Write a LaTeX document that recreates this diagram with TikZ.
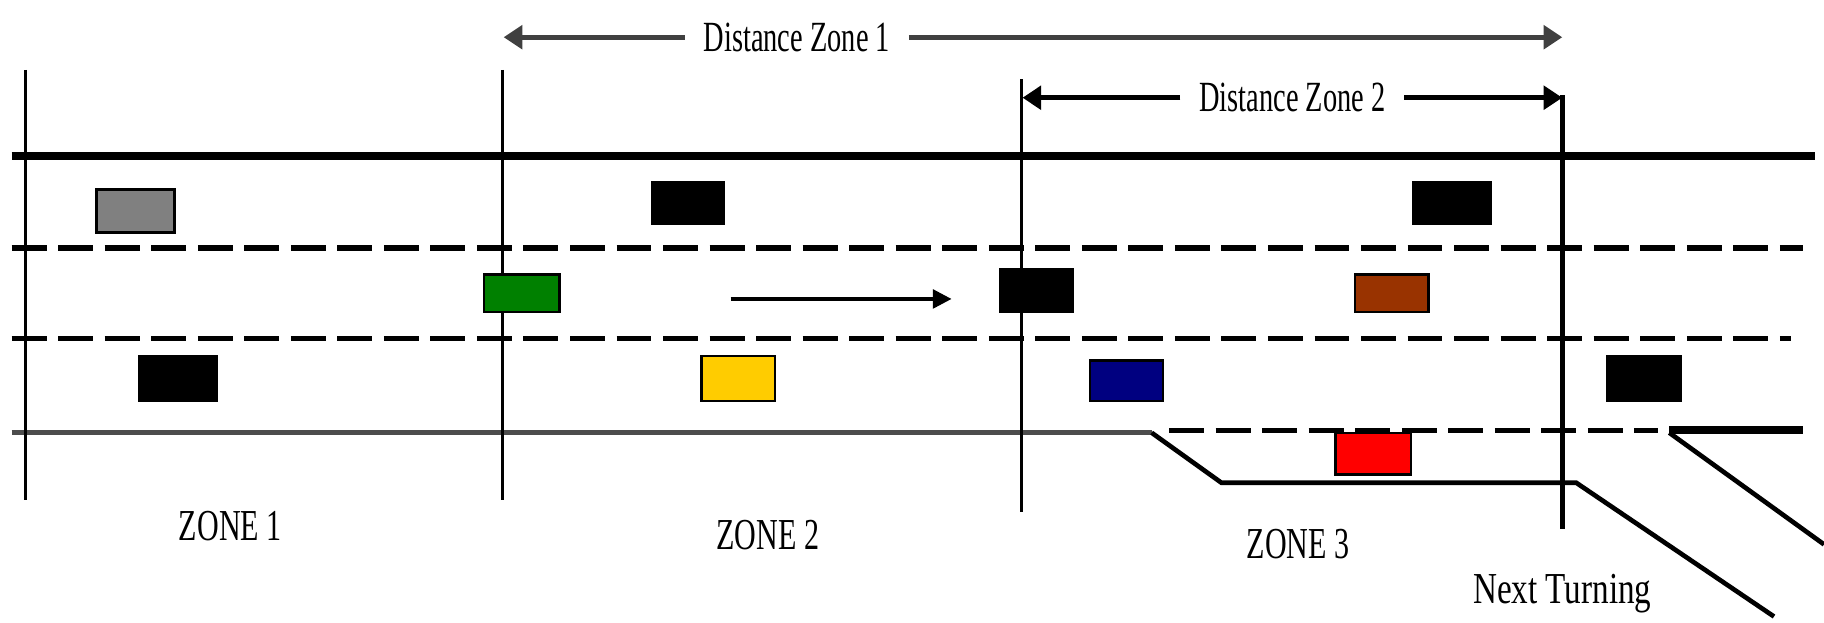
\documentclass[tikz,border=0pt]{standalone}
\usepackage{fontspec}
\setmainfont{Liberation Serif}
\usetikzlibrary{arrows.meta}
\tikzset{
  road/.style={line width=7pt,black},
  lane/.style={line width=5pt,black,dash pattern=on 30pt off 10pt},
  edge/.style={line width=4pt,black!70},
  ramp/.style={line width=4pt,black},
  zoneline/.style={line width=3pt,black},
  dist/.style={line width=4pt,black!75,-{Triangle[length=16pt,width=20pt]}},
  dir/.style={line width=3pt,black,-{Triangle[length=16pt,width=16pt]}},
  car/.style={draw=black,line width=2pt},
  lbl/.style={inner sep=0pt,font=\fontsize{38}{38}\selectfont},
  dlbl/.style={inner xsep=16pt,inner ysep=0pt,font=\fontsize{37}{37}\selectfont}
}
\definecolor{cargray}{HTML}{808080}
\definecolor{cargreen}{HTML}{008000}
\definecolor{carbrown}{HTML}{993300}
\definecolor{caryellow}{HTML}{FFCC00}
\definecolor{carblue}{HTML}{000080}
\definecolor{carred}{HTML}{FF0000}
\begin{document}
\begin{tikzpicture}[x=1pt,y=-1pt]
\useasboundingbox[fill=white] (0,0) rectangle (1568,535);
% road
\draw[road] (10,134) -- (1560,134);
\draw[lane] (10,213) -- (1550,213);
\draw[lane] (10,291) -- (1540,291);
\draw[edge] (10,372) -- (990,372);
\draw[ramp] (990,372) -- (1050,415) -- (1355,415) -- (1525,530);
\draw[lane] (1005,370) -- (1425,370);
\draw[road] (1435,370) -- (1550,370);
\draw[ramp] (1435,372) -- (1568,468);
% zone lines
\coordinate (v1t) at (22,60);   \coordinate (v1b) at (22,430);
\coordinate (v2t) at (432,60);  \coordinate (v2b) at (432,430);
\coordinate (v3t) at (878,68);  \coordinate (v3b) at (878,440);
\coordinate (v4t) at (1343,82); \coordinate (v4b) at (1343,455);
\draw[zoneline] (v1t) -- (v1b);
\draw[zoneline] (v2t) -- (v2b);
\draw[zoneline] (v3t) -- (v3b);
\draw[line width=4pt] (v4t) -- (v4b);
% distance arrows
\node[dlbl] (dz1) at (685,32) {\scalebox{0.66}[1]{Distance Zone 1}};
\node[dlbl] (dz2) at (1111,84) {\scalebox{0.66}[1]{Distance Zone 2}};
\coordinate (a1l) at (433,32); \coordinate (a1r) at (1343,32);
\coordinate (a2l) at (879,84); \coordinate (a2r) at (1343,84);
\draw[dist] (dz1.west) -- (a1l);
\draw[dist] (dz1.east) -- (a1r);
\draw[dist,black] (dz2.west) -- (a2l);
\draw[dist,black] (dz2.east) -- (a2r);
% direction arrow
\coordinate (d0) at (628,257); \coordinate (d1) at (818,257);
\draw[dir] (d0) -- (d1);
% cars
\filldraw[car,fill=cargray] (83,163) rectangle (150,200);
\filldraw[car,fill=black] (561,157) rectangle (622,192);
\filldraw[car,fill=black] (1215,157) rectangle (1282,192);
\filldraw[car,fill=cargreen] (416,236) rectangle (481,268);
\filldraw[car,fill=black] (860,231) rectangle (922,268);
\filldraw[car,fill=carbrown] (1165,236) rectangle (1228,268);
\filldraw[car,fill=black] (120,306) rectangle (186,345);
\filldraw[car,fill=caryellow] (603,306) rectangle (666,345);
\filldraw[car,fill=carblue] (937,310) rectangle (1000,345);
\filldraw[car,fill=black] (1382,306) rectangle (1445,345);
\filldraw[car,fill=carred] (1148,372) rectangle (1213,408);
% labels
\node[lbl] (z1) at (198,452) {\scalebox{0.68}[1]{ZONE 1}};
\node[lbl] (z2) at (660,460) {\scalebox{0.68}[1]{ZONE 2}};
\node[lbl] (z3) at (1116,468) {\scalebox{0.68}[1]{ZONE 3}};
\node[lbl] (nt) at (1343,510) {\scalebox{0.75}[1]{Next Turning}};
\end{tikzpicture}
\end{document}
